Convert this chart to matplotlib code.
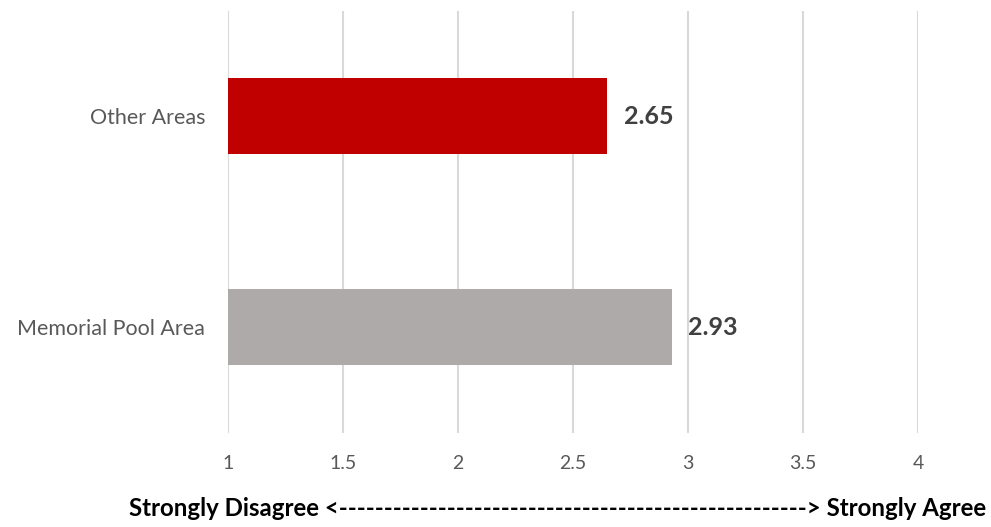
import matplotlib
matplotlib.use("Agg")
import matplotlib.pyplot as plt

# chart data (bottom to top)
categories = ["Memorial Pool Area", "Other Areas"]
values = [2.93, 2.65]
bar_colors = ["#AEAAAA", "#C00000"]
x_ticks = [1, 1.5, 2, 2.5, 3, 3.5, 4]
x_ticklabels = ["1", "1.5", "2", "2.5", "3", "3.5", "4"]
x_label = "Strongly Disagree <" + "-" * 52 + "> Strongly Agree"

plt.rcParams["font.family"] = ["Lato", "DejaVu Sans"]

fig = plt.figure(figsize=(9.91, 5.27), dpi=100)
ax = fig.add_axes([0.2301, 0.1793, 0.6962, 0.8007])

pos = list(range(len(categories)))
ax.barh(pos, [v - 1 for v in values], left=1, height=0.36,
        color=bar_colors, zorder=3)

for p, v in zip(pos, values):
    ax.text(v + 0.07, p, f"{v:.2f}", va="center", ha="left",
            fontsize=18, fontweight="bold", color="#404040", zorder=4)

ax.set_xlim(1, 4)
ax.set_ylim(-0.5, 1.5)
ax.set_xticks(x_ticks)
ax.set_xticklabels(x_ticklabels, fontsize=14, color="#595959")
ax.set_yticks(pos)
ax.set_yticklabels(categories, fontsize=15.5, color="#595959")
ax.tick_params(axis="both", length=0)
ax.tick_params(axis="x", pad=16)
ax.tick_params(axis="y", pad=16.5)

ax.grid(axis="x", color="#D9D9D9", linewidth=1.5, zorder=0)
for s in ax.spines.values():
    s.set_visible(False)

fig.text(0.563, 0.036, x_label, ha="center", va="center",
         fontsize=17.3, fontweight="bold", color="black")

fig.savefig("out.png", dpi=100)
